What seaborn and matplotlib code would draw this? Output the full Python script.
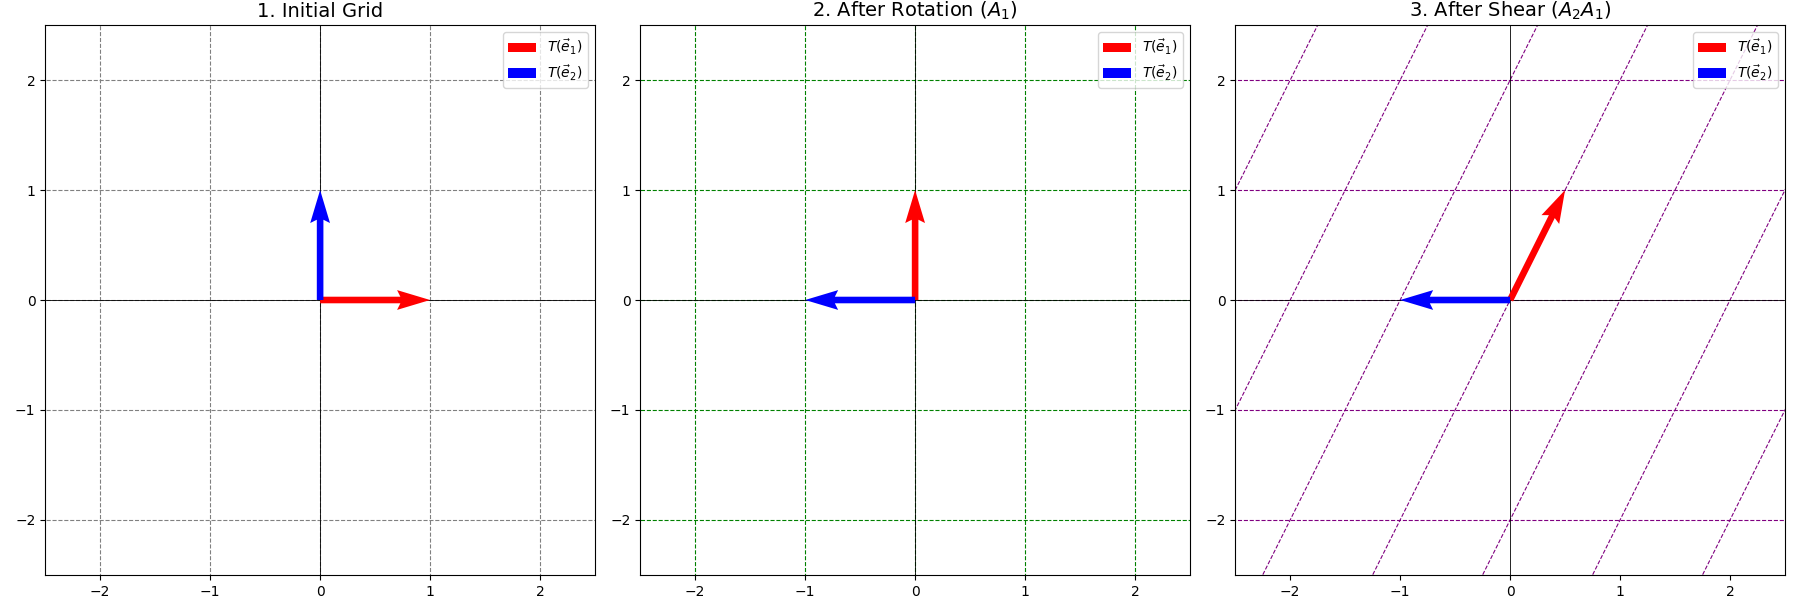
import numpy as np
import pandas as pd
import seaborn as sns
import matplotlib
matplotlib.use("Agg")
import matplotlib.pyplot as plt

titles = ["1. Initial Grid", r"2. After Rotation ($A_1$)", r"3. After Shear ($A_2A_1$)"]
grid_colors = ["gray", "green", "purple"]
A1 = np.array([[0, -1], [1, 0]])
A2 = np.array([[1, 0.5], [0, 1]])
matrices = [np.eye(2), A1, A2 @ A1]
grid_vals = np.arange(-5, 6)
ticks = [-2, -1, 0, 1, 2]

fig, axes = plt.subplots(1, 3, figsize=(18, 6), dpi=100)

for ax, title, gc, M in zip(axes, titles, grid_colors, matrices):
    rows = []
    t = np.array([-6.0, 6.0])
    for k in grid_vals:
        # lines x=k and y=k transformed
        for i, pts in enumerate([np.vstack([np.full(2, k), t]), np.vstack([t, np.full(2, k)])]):
            p = M @ pts
            for j in range(2):
                rows.append({"x": p[0, j], "y": p[1, j], "line": f"{k}_{i}"})
    df = pd.DataFrame(rows)
    sns.lineplot(data=df, x="x", y="y", units="line", estimator=None, sort=False,
                 color=gc, linestyle="--", linewidth=0.8, ax=ax)
    ax.axhline(0, color="black", linewidth=0.6)
    ax.axvline(0, color="black", linewidth=0.6)
    e1 = M @ np.array([1, 0])
    e2 = M @ np.array([0, 1])
    ax.quiver(0, 0, e1[0], e1[1], angles="xy", scale_units="xy", scale=1,
              color="red", width=0.012, label=r"$T(\vec{e}_1)$", zorder=3)
    ax.quiver(0, 0, e2[0], e2[1], angles="xy", scale_units="xy", scale=1,
              color="blue", width=0.012, label=r"$T(\vec{e}_2)$", zorder=3)
    ax.set_xlim(-2.5, 2.5)
    ax.set_ylim(-2.5, 2.5)
    ax.set_xticks(ticks)
    ax.set_yticks(ticks)
    ax.set_xlabel("")
    ax.set_ylabel("")
    ax.set_aspect("equal")
    ax.set_title(title, fontsize=14)
    ax.legend(loc="upper right")

plt.tight_layout()
plt.savefig("out.png")
